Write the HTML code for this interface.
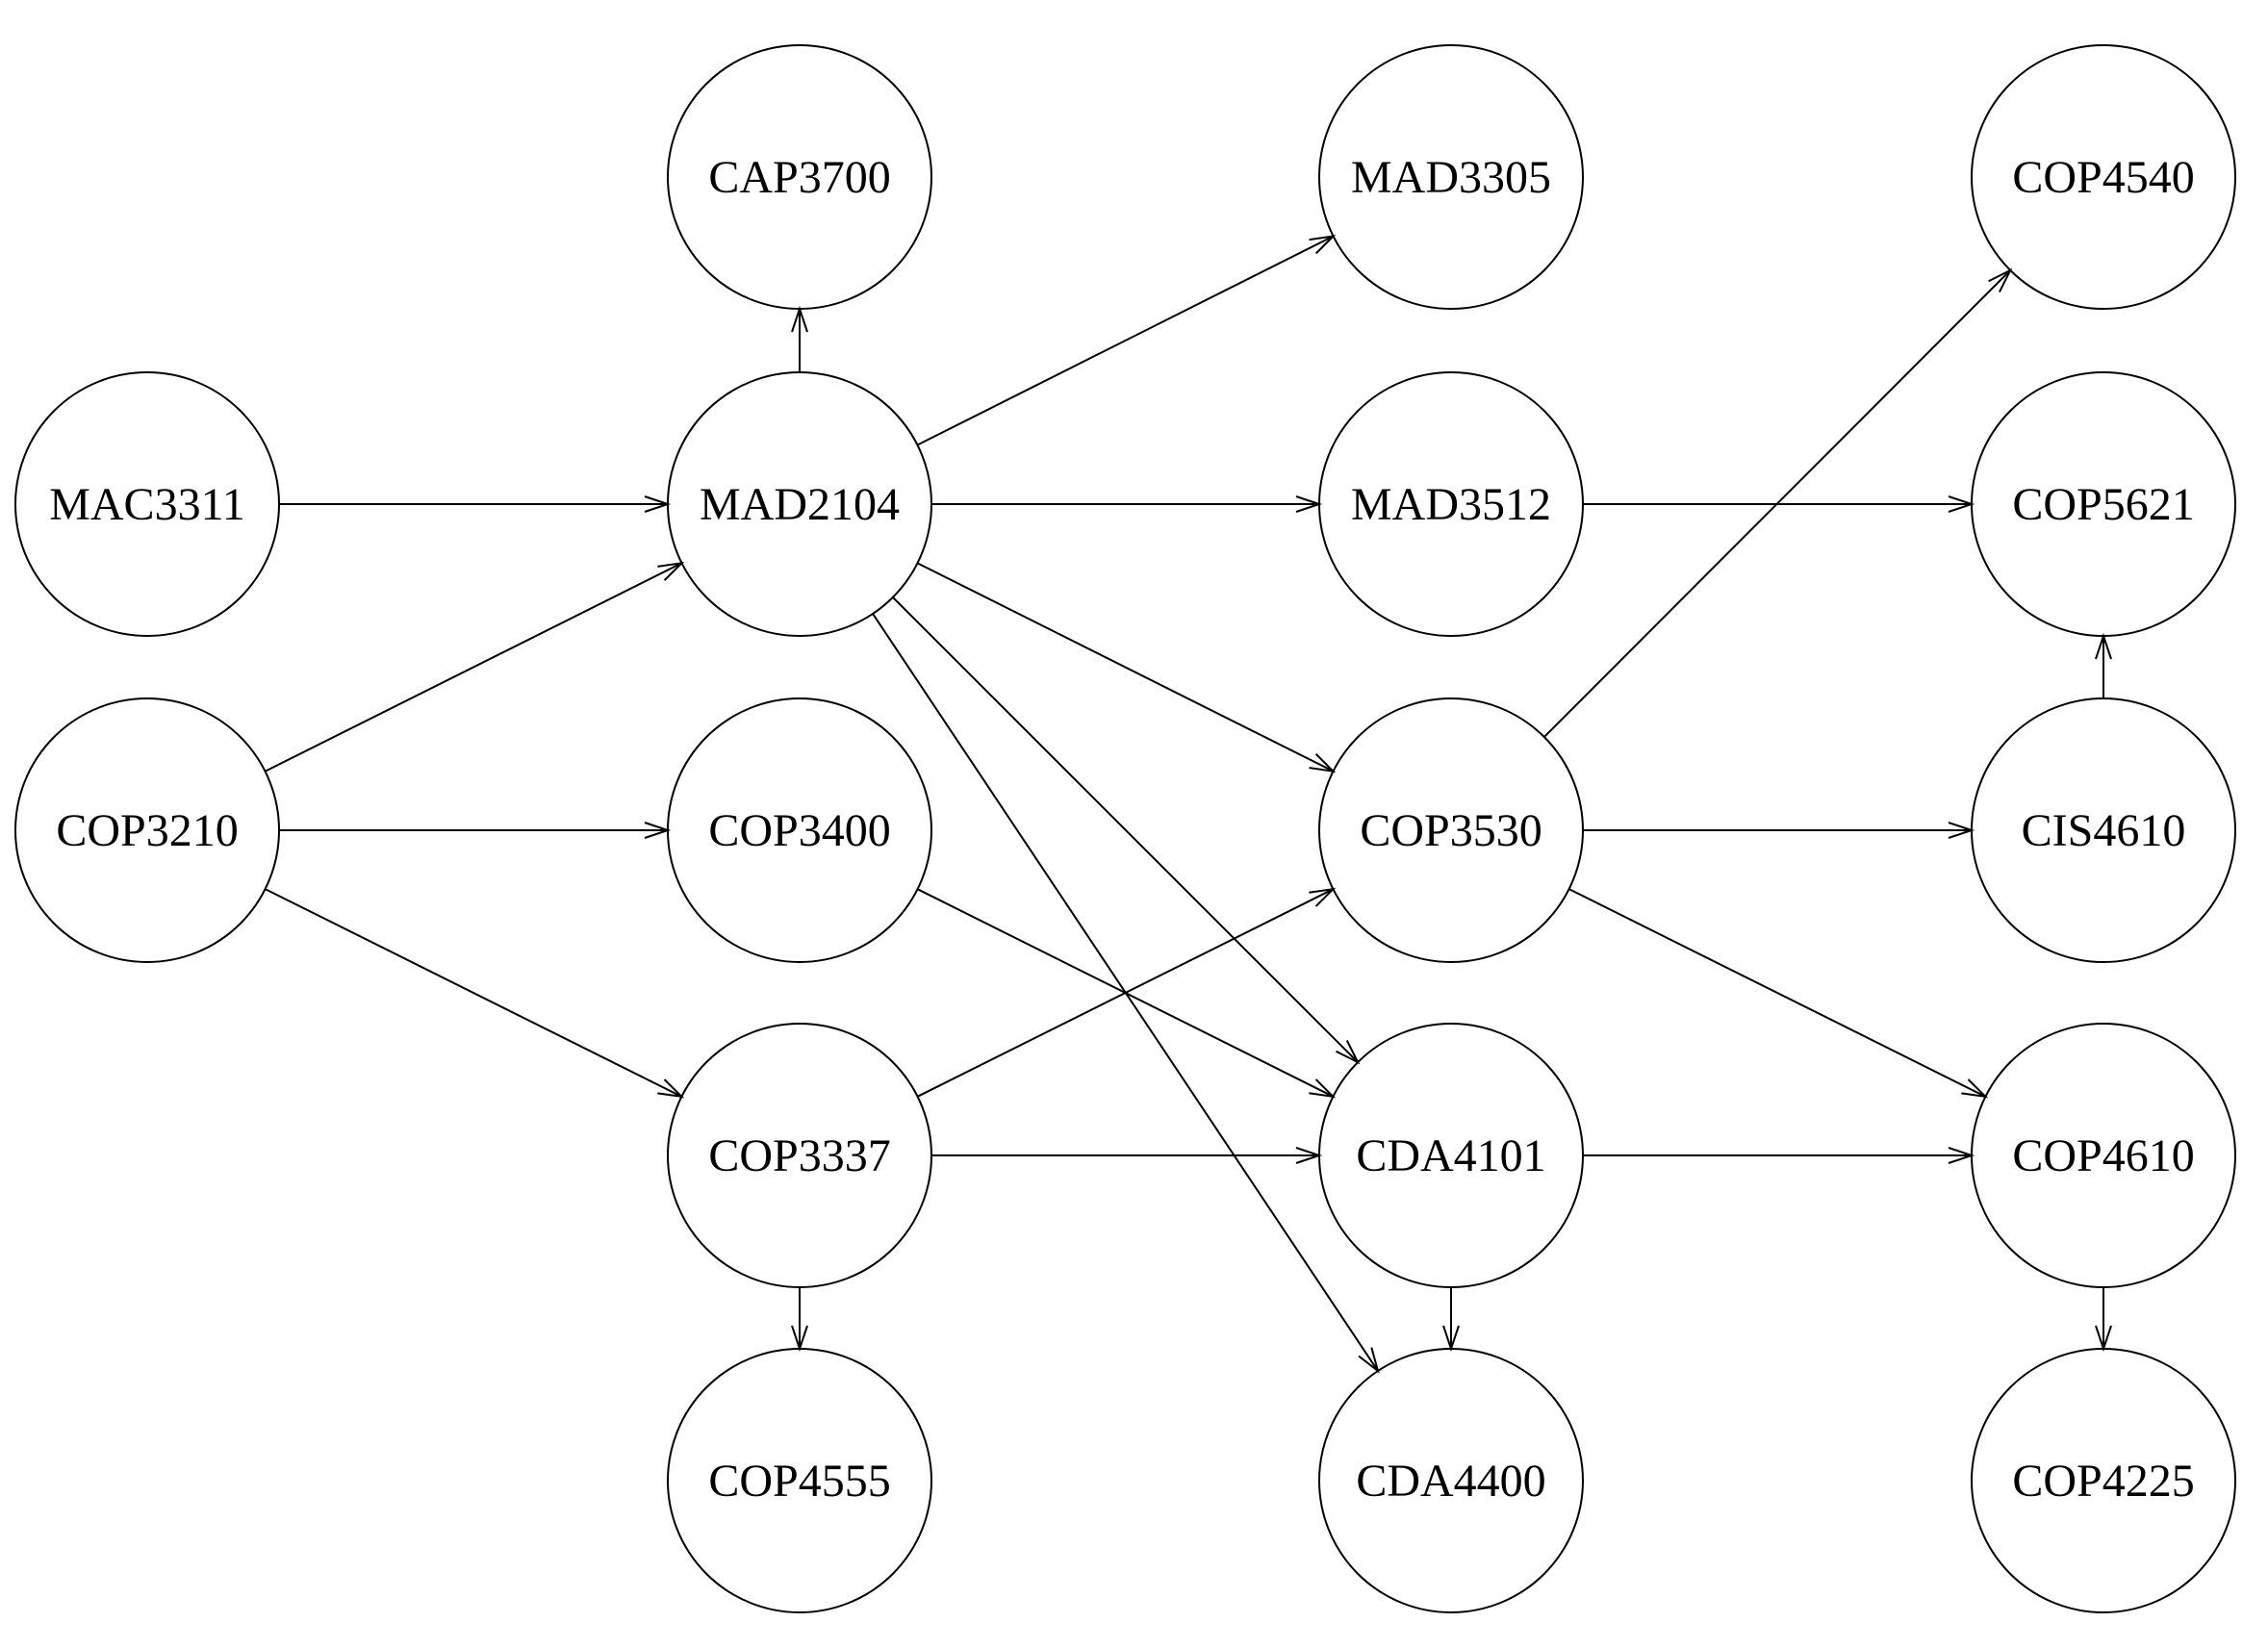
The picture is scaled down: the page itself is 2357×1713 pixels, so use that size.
<!DOCTYPE html>
<html><head><meta charset="utf-8"><style>
html,body{margin:0;padding:0;background:#fff;}
svg{display:block;}
text{font-family:"Liberation Serif",serif;font-size:48px;fill:#000;}
</style></head><body>
<svg id="s" width="2357" height="1713" viewBox="0 0 2357 1713" xmlns="http://www.w3.org/2000/svg"></svg>
<script>
var cx=[153,831,1508,2186], cy=[184,524,863,1201,1539], R=137;
var N={
MAC3311:[0,1],COP3210:[0,2],
CAP3700:[1,0],MAD2104:[1,1],COP3400:[1,2],COP3337:[1,3],COP4555:[1,4],
MAD3305:[2,0],MAD3512:[2,1],COP3530:[2,2],CDA4101:[2,3],CDA4400:[2,4],
COP4540:[3,0],COP5621:[3,1],CIS4610:[3,2],COP4610:[3,3],COP4225:[3,4]};
var E=[["MAD2104","CAP3700"],["MAD2104","MAD3305"],["MAC3311","MAD2104"],["MAD2104","MAD3512"],
["MAD3512","COP5621"],["COP3210","MAD2104"],["MAD2104","COP3530"],["MAD2104","CDA4101"],
["MAD2104","CDA4400"],["COP3530","COP4540"],["CIS4610","COP5621"],["COP3210","COP3400"],
["COP3210","COP3337"],["COP3530","CIS4610"],["COP3400","CDA4101"],["COP3337","COP3530"],
["COP3530","COP4610"],["COP3337","CDA4101"],["CDA4101","COP4610"],["COP3337","COP4555"],
["CDA4101","CDA4400"],["COP4610","COP4225"]];
var s='';
for(var k in N){var x=cx[N[k][0]],y=cy[N[k][1]];
s+='<circle cx="'+x+'" cy="'+y+'" r="'+R+'" fill="none" stroke="#000" stroke-width="2"/>';
s+='<text x="'+x+'" y="'+(y+16)+'" text-anchor="middle">'+k+'</text>';}
E.forEach(function(e){var a=N[e[0]],b=N[e[1]];
var x1=cx[a[0]],y1=cy[a[1]],x2=cx[b[0]],y2=cy[b[1]];
var dx=x2-x1,dy=y2-y1,L=Math.sqrt(dx*dx+dy*dy),ux=dx/L,uy=dy/L;
var sx=x1+ux*R,sy=y1+uy*R,ex=x2-ux*R,ey=y2-uy*R;
s+='<line x1="'+sx+'" y1="'+sy+'" x2="'+ex+'" y2="'+ey+'" stroke="#000" stroke-width="2"/>';
var h=24,w=8,px=-uy,py=ux;
var bx=ex-ux*h,by=ey-uy*h;
s+='<polyline points="'+(bx+px*w)+','+(by+py*w)+' '+ex+','+ey+' '+(bx-px*w)+','+(by-py*w)+'" fill="none" stroke="#000" stroke-width="2"/>';});
document.getElementById('s').innerHTML=s;
</script>
</body></html>
